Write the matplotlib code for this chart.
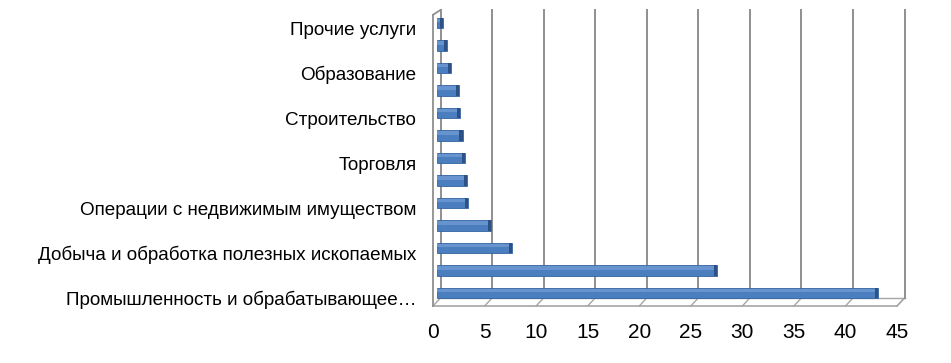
import matplotlib.pyplot as plt
from matplotlib.transforms import ScaledTranslation

plt.rcParams['font.family'] = ['Liberation Sans', 'DejaVu Sans']

# категории снизу вверх (подписи Excel показывает через одну)
labels = ["Промышленность и обрабатывающее…", "",
          "Добыча и обработка полезных ископаемых", "",
          "Операции с недвижимым имуществом", "",
          "Торговля", "",
          "Строительство", "",
          "Образование", "",
          "Прочие услуги"]
values = [42.8, 27.2, 7.3, 5.3, 3.05, 2.95, 2.75, 2.5, 2.3, 2.2, 1.4, 1.0, 0.6]
xticks = list(range(0, 50, 5))

W, H = 951, 363
fig = plt.figure(figsize=(W / 100, H / 100), dpi=100)
ax = fig.add_axes([433 / W, (H - 306) / H, (897 - 433) / W, (306 - 10) / H])
y0, ytop = -0.578, 12.58
ax.set_xlim(0, 45)
ax.set_ylim(y0, ytop)

# псевдо-3D: смещение задней стенки
dx = 7.5 * 45 / 464
dy = 8 / 22.5
grid_c = "#8f8f8f"
floor_c = "#a6a6a6"

# пол
ax.plot([0, 45], [y0, y0], color=floor_c, lw=1.2, clip_on=False)
ax.plot([dx, 45 + dx], [y0 + dy, y0 + dy], color=floor_c, lw=1.0, clip_on=False)
ax.plot([45, 45 + dx], [y0, y0 + dy], color=floor_c, lw=1.0, clip_on=False)
for t in xticks:
    ax.plot([t, t + dx], [y0, y0 + dy], color=floor_c, lw=1.0, clip_on=False)
    ax.plot([t + dx, t + dx], [y0 + dy, ytop], color=grid_c, lw=1.4, clip_on=False)

# левая стенка
wall_top = ytop - dy * 0.6
ax.plot([0, 0], [y0, wall_top], color=grid_c, lw=1.3, clip_on=False)
ax.plot([0, dx], [wall_top, ytop], color=grid_c, lw=1.3, clip_on=False)

# полосы
pos = list(range(len(values)))
off = dx / 2
cap = 0.3
ax.barh(pos, values, left=off, height=0.47, color="#4a7ebf",
        edgecolor="#3464a0", linewidth=0.6, zorder=3)
ax.barh([p + 0.04 for p in pos], values, left=off, height=0.14, color="#6793cf",
        linewidth=0, zorder=3, align="edge")
ax.barh(pos, [cap] * len(values), left=[off + v - cap for v in values],
        height=0.47, color="#2b5186", linewidth=0, zorder=4)

for s in ax.spines.values():
    s.set_visible(False)

ax.set_xticks(xticks)
ax.set_xticklabels([str(t) for t in xticks], fontsize=15)
ax.tick_params(axis="x", length=0, pad=12)
ax.set_yticks(pos)
ax.set_yticklabels(labels, fontsize=13.6)
ax.tick_params(axis="y", length=0, pad=12)
shift = ScaledTranslation(0, -5 / 100, fig.dpi_scale_trans)
for lab in ax.get_yticklabels():
    lab.set_transform(lab.get_transform() + shift)

fig.savefig("out.png", dpi=100)
